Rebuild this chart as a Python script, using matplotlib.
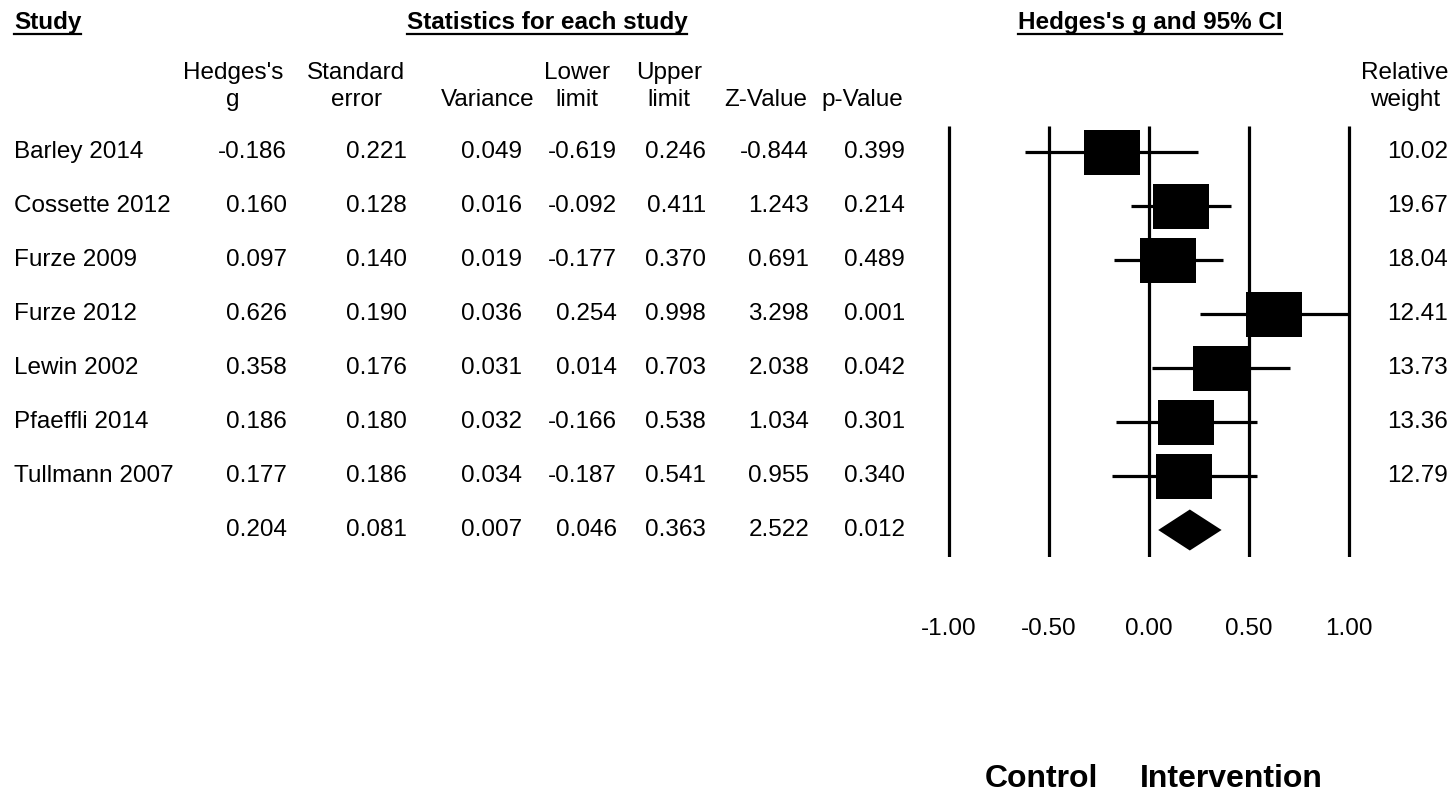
import matplotlib
matplotlib.use("Agg")
import matplotlib.pyplot as plt
from matplotlib.patches import Rectangle, Polygon
from matplotlib.lines import Line2D
import matplotlib.transforms as mtransforms

# ---------------- data ----------------
studies = ["Barley 2014", "Cossette 2012", "Furze 2009", "Furze 2012",
           "Lewin 2002", "Pfaeffli 2014", "Tullmann 2007"]
hedges_g = [-0.186, 0.160, 0.097, 0.626, 0.358, 0.186, 0.177]
std_err = [0.221, 0.128, 0.140, 0.190, 0.176, 0.180, 0.186]
variance = [0.049, 0.016, 0.019, 0.036, 0.031, 0.032, 0.034]
lower_limit = [-0.619, -0.092, -0.177, 0.254, 0.014, -0.166, -0.187]
upper_limit = [0.246, 0.411, 0.370, 0.998, 0.703, 0.538, 0.541]
z_value = [-0.844, 1.243, 0.691, 3.298, 2.038, 1.034, 0.955]
p_value = [0.399, 0.214, 0.489, 0.001, 0.042, 0.301, 0.340]
rel_weight = [10.02, 19.67, 18.04, 12.41, 13.73, 13.36, 12.79]

summary_g = 0.204
summary_se = 0.081
summary_var = 0.007
summary_lower = 0.046
summary_upper = 0.363
summary_z = 2.522
summary_p = 0.012

header_top = ["Hedges's", "Standard", "", "Lower", "Upper", "", ""]
header_bottom = ["g", "error", "Variance", "limit", "limit", "Z-Value", "p-Value"]
tick_values = [-1.0, -0.5, 0.0, 0.5, 1.0]
tick_labels = ["-1.00", "-0.50", "0.00", "0.50", "1.00"]

# ---------------- layout ----------------
W, H = 1456, 793
plt.rcParams['font.family'] = ['Liberation Sans', 'DejaVu Sans']
fig = plt.figure(figsize=(W / 100, H / 100), dpi=100)
fig.patch.set_facecolor("white")

def fx(x):
    return x / W

def fy(y):
    return 1 - y / H

ROW_PX = 54.0
ROW0_PX = 152.0
AX_TOP, AX_BOT = 126.0, 557.0
AX_LEFT, AX_RIGHT = 929.0, 1369.0

ax = fig.add_axes([fx(AX_LEFT), fy(AX_BOT), (AX_RIGHT - AX_LEFT) / W, (AX_BOT - AX_TOP) / H])
ax.set_xlim(-1.1, 1.1)
ax.set_ylim((AX_BOT - ROW0_PX) / ROW_PX, (AX_TOP - ROW0_PX) / ROW_PX)
for s in ax.spines.values():
    s.set_visible(False)
ax.set_yticks([])
ax.set_xticks(tick_values)
ax.set_xticklabels(tick_labels)
ax.tick_params(axis='x', length=0, pad=44, labelsize=17.5)
ax.patch.set_alpha(0)

LW = 2.3
for t in tick_values:
    ax.axvline(t, color="black", lw=LW, solid_capstyle="butt", zorder=1)

n = len(studies)
box_w = 56 / 200.0  # data units
box_h = 45 / ROW_PX
for i in range(n):
    ax.hlines(i, lower_limit[i], upper_limit[i], color="black", lw=LW, zorder=2)
    ax.add_patch(Rectangle((hedges_g[i] - box_w / 2, i - box_h / 2), box_w, box_h,
                           facecolor="black", edgecolor="none", zorder=3))

sy = n
dh = 20.5 / ROW_PX
ax.add_patch(Polygon([(summary_lower, sy), (summary_g, sy - dh),
                      (summary_upper, sy), (summary_g, sy + dh)],
                     closed=True, facecolor="black", edgecolor="none", zorder=3))

# ---------------- table text ----------------
trans = mtransforms.blended_transform_factory(fig.transFigure, ax.transData)
FS = 17.5
col_right = [287, 407, 522, 617, 706, 809, 905]
col_center = [233, 356, 488, 577, 669, 766, 862]

for i in range(n):
    fig.text(fx(14), i, studies[i], transform=trans, ha="left", va="center", fontsize=FS)
    vals = [hedges_g[i], std_err[i], variance[i], lower_limit[i], upper_limit[i],
            z_value[i], p_value[i]]
    for xr, v in zip(col_right, vals):
        fig.text(fx(xr), i, f"{v:.3f}", transform=trans, ha="right", va="center", fontsize=FS)
    fig.text(fx(1448), i, f"{rel_weight[i]:.2f}", transform=trans, ha="right",
             va="center", fontsize=FS)

svals = [summary_g, summary_se, summary_var, summary_lower, summary_upper, summary_z, summary_p]
for xr, v in zip(col_right, svals):
    fig.text(fx(xr), sy, f"{v:.3f}", transform=trans, ha="right", va="center", fontsize=FS)

# column headers
for xc, t1, t2 in zip(col_center, header_top, header_bottom):
    if t1:
        fig.text(fx(xc), fy(73), t1, ha="center", va="center", fontsize=FS)
    fig.text(fx(xc), fy(100), t2, ha="center", va="center", fontsize=FS)
fig.text(fx(1405), fy(73), "Relative", ha="center", va="center", fontsize=FS)
fig.text(fx(1405), fy(100), "weight", ha="center", va="center", fontsize=FS)

# top bold underlined titles
HFS = 17.5
titles = [
    fig.text(fx(14), fy(22), "Study", ha="left", va="center", fontsize=HFS, fontweight="bold"),
    fig.text(fx(547), fy(22), "Statistics for each study", ha="center", va="center",
             fontsize=HFS, fontweight="bold"),
    fig.text(fx(1150), fy(22), "Hedges's g and 95% CI", ha="center", va="center",
             fontsize=HFS, fontweight="bold"),
]
fig.canvas.draw()
renderer = fig.canvas.get_renderer()
for t in titles:
    bb = t.get_window_extent(renderer)
    yline = fy(34)
    fig.add_artist(Line2D([bb.x0 / W, bb.x1 / W], [yline, yline], color="black", lw=1.6,
                          transform=fig.transFigure))

# bottom labels
fig.text(fx(1041), fy(779), "Control", ha="center", va="center", fontsize=23, fontweight="bold")
fig.text(fx(1231), fy(779), "Intervention", ha="center", va="center", fontsize=23,
         fontweight="bold")

fig.savefig("out.png", dpi=100, facecolor="white")
